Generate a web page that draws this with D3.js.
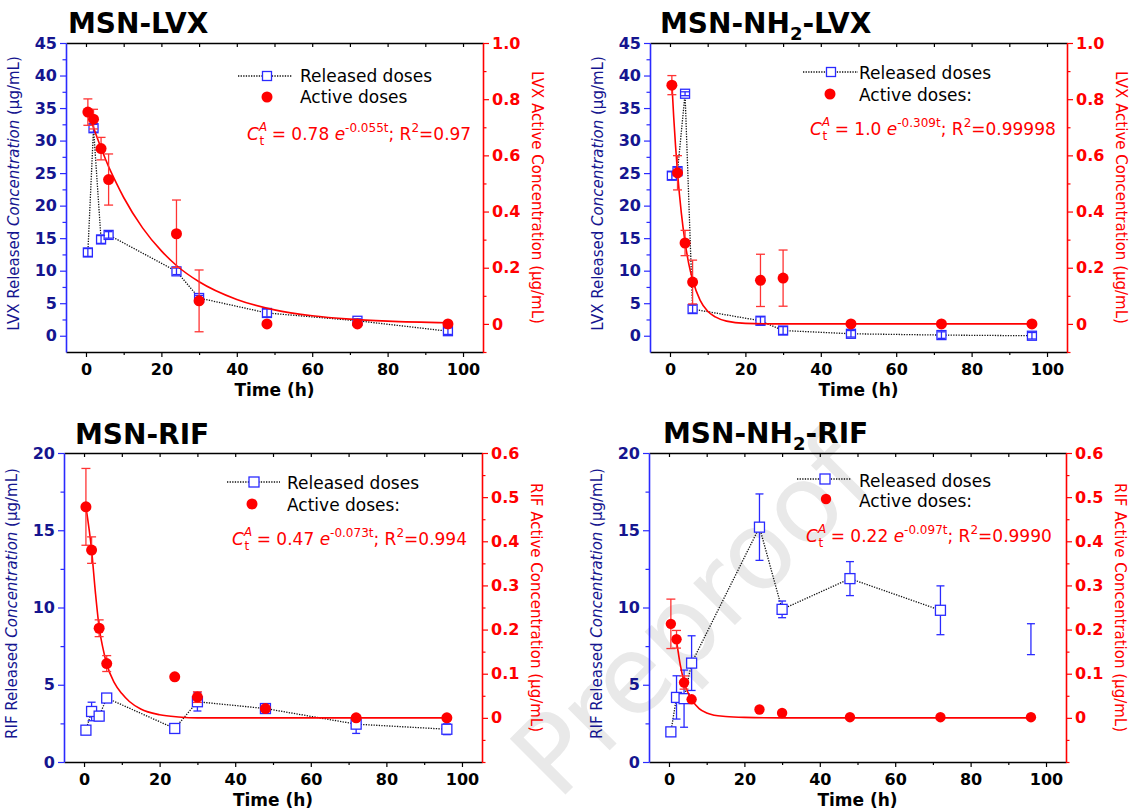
<!DOCTYPE html>
<html><head><meta charset="utf-8">
<script src="https://cdn.jsdelivr.net/npm/d3@7"></script>
<style>body{margin:0;background:#fff}svg text{font-family:"DejaVu Sans",sans-serif}</style>
</head><body>
<svg id="c" width="1133" height="812"></svg>
<script>
// ---------- DATA ----------
const times = [0.5, 2, 4, 6, 24, 30, 48, 72, 96];

// MSN-LVX
const lvxReleased    = [12.8, 31.9, 14.8, 15.5, 9.9, 5.8, 3.5, 2.3, 0.7];
const lvxReleasedErr = [0.6, 0.6, 0.6, 0.5, 0.5, 0.4, 0.6, 0.3, 0.5];
const lvxActive      = [0.754, 0.729, 0.624, 0.514, 0.321, 0.082, 0.0, 0.0, 0.0];
const lvxActiveErr   = [0.047, 0.035, 0.04, 0.091, 0.12, 0.11, 0, 0, 0];
const lvxFitT = [1.5, 4, 6, 8, 10, 15, 20, 24, 30, 40, 50, 60, 70, 80, 96];
const lvxFitV = [0.718, 0.626, 0.560, 0.503, 0.450, 0.342, 0.260, 0.208, 0.150, 0.087, 0.050, 0.029, 0.017, 0.010, 0.004];

// MSN-NH2-LVX
const nh2LvxReleased    = [24.6, 25.3, 37.2, 4.1, 2.3, 0.8, 0.3, 0.1, 0.0];
const nh2LvxReleasedErr = [0.6, 0.6, 0.3, 0.6, 0.6, 0.6, 0.5, 0.5, 0.5];
const nh2LvxActive      = [0.85, 0.538, 0.288, 0.149, 0.155, 0.163, 0.0, 0.0, 0.0];
const nh2LvxActiveErr   = [0.034, 0.061, 0.045, 0.078, 0.093, 0.1, 0, 0, 0];
const nh2LvxFitT = [0.5, 1, 2, 3, 4, 5, 6, 8, 10, 12, 15, 20, 30, 96];
const nh2LvxFitV = [0.857, 0.734, 0.539, 0.396, 0.291, 0.213, 0.157, 0.084, 0.045, 0.025, 0.010, 0.002, 0, 0];

// MSN-RIF
const rifReleased    = [2.06, 3.27, 2.97, 4.14, 2.17, 3.9, 3.46, 2.45, 2.12];
const rifReleasedErr = [0, 0.6, 0.3, 0, 0, 0.6, 0.1, 0.6, 0.35];
const rifActive      = [0.478, 0.38, 0.203, 0.123, 0.093, 0.047, 0.021, 0.0, 0.0];
const rifActiveErr   = [0.087, 0.03, 0.019, 0.018, 0, 0.012, 0, 0, 0];
const rifFitT = [0.5, 2, 3, 4, 5, 6, 8, 10, 12, 15, 20, 25, 30, 96];
const rifFitV = [0.478, 0.38, 0.285, 0.205, 0.158, 0.122, 0.08, 0.055, 0.037, 0.02, 0.007, 0.002, 0, 0];

// MSN-NH2-RIF
const nh2RifReleased    = [1.95, 4.18, 4.1, 6.4, 15.2, 9.88, 11.87, 9.82, 7.95];
const nh2RifReleasedErr = [0, 1.4, 1.85, 1.77, 2.15, 0.54, 1.1, 1.58, 1.0];
const nh2RifMarkerShown = [true, true, true, true, true, true, true, true, false];
const nh2RifActive      = [0.213, 0.178, 0.08, 0.042, 0.019, 0.011, 0.0015, 0.0015, 0.0015];
const nh2RifActiveErr   = [0.056, 0.02, 0.015, 0, 0, 0, 0, 0, 0];
const nh2RifFitT = [2, 3, 4, 5, 6, 8, 10, 12, 15, 20, 30, 96];
const nh2RifFitV = [0.175, 0.12, 0.082, 0.058, 0.042, 0.021, 0.011, 0.006, 0.003, 0.001, 0, 0];

// Text
const titles = [["MSN-LVX"], ["MSN-NH", "2", "-LVX"], ["MSN-RIF"], ["MSN-NH", "2", "-RIF"]];
const drugs = ["LVX", "LVX", "RIF", "RIF"];
const legendReleased = "Released doses";
const legendActive = ["Active doses", "Active doses:", "Active doses:", "Active doses:"];
const eqA  = ["0.78", "1.0", "0.47", "0.22"];
const eqK  = ["-0.055t", "-0.309t", "-0.073t", "-0.097t"];
const eqR2 = ["0.97", "0.99998", "0.994", "0.9990"];
const xTicks = [0, 20, 40, 60, 80, 100];
const xLabel = "Time (h)";
const leftTicksLVX = [0, 5, 10, 15, 20, 25, 30, 35, 40, 45];
const leftTicksRIF = [0, 5, 10, 15, 20];
const rightTicksLVX = [0, 0.2, 0.4, 0.6, 0.8, 1.0];
const rightTicksRIF = [0, 0.1, 0.2, 0.3, 0.4, 0.5, 0.6];
const watermark = "Preproof";

// ---------- LAYOUT ----------
const NAVY = "#15158f", BLUE = "#2a2aff", RED = "#ff0000";
const panels = [
  {released: lvxReleased, relErr: lvxReleasedErr, shown: null, active: lvxActive, actErr: lvxActiveErr, fitT: lvxFitT, fitV: lvxFitV,
   px:66, py:43, pw:417, ph:309, yL:[-2.5,45], yLt:leftTicksLVX, yLstep:2.5, yR:[-0.1,1.0], yRt:rightTicksLVX, yRstep:0.1,
   sq:9, r:5.5, barsOnTop:true, title:[68,33], leg:{x0:238,x1:292,xs:267,ys:76,tx:300,tb1:82,xd:267,yd:97,tb2:103}, eq:[247,140]},
  {released: nh2LvxReleased, relErr: nh2LvxReleasedErr, shown: null, active: nh2LvxActive, actErr: nh2LvxActiveErr, fitT: nh2LvxFitT, fitV: nh2LvxFitV,
   px:650, py:43, pw:417, ph:309, yL:[-2.5,45], yLt:leftTicksLVX, yLstep:2.5, yR:[-0.1,1.0], yRt:rightTicksLVX, yRstep:0.1,
   sq:9, r:5.5, barsOnTop:true, title:[660,33], leg:{x0:803,x1:858,xs:831,ys:72,tx:859,tb1:79,xd:830,yd:94,tb2:101}, eq:[810,135]},
  {released: rifReleased, relErr: rifReleasedErr, shown: null, active: rifActive, actErr: rifActiveErr, fitT: rifFitT, fitV: rifFitV,
   px:64, py:453, pw:418, ph:309, yL:[0,20], yLt:leftTicksRIF, yLstep:2.5, yR:[-0.1,0.6], yRt:rightTicksRIF, yRstep:0.05,
   sq:10, r:5.5, barsOnTop:false, title:[75,444], leg:{x0:227,x1:280,xs:254,ys:482,tx:287,tb1:489,xd:252,yd:504,tb2:511}, eq:[232,545]},
  {released: nh2RifReleased, relErr: nh2RifReleasedErr, shown: nh2RifMarkerShown, active: nh2RifActive, actErr: nh2RifActiveErr, fitT: nh2RifFitT, fitV: nh2RifFitV,
   px:649, py:453, pw:417, ph:309, yL:[0,20], yLt:leftTicksRIF, yLstep:2.5, yR:[-0.1,0.6], yRt:rightTicksRIF, yRstep:0.05,
   sq:10, r:5.2, barsOnTop:false, title:[663,443], leg:{x0:797,x1:851,xs:825,ys:479,tx:859,tb1:487,xd:826,yd:499,tb2:507}, eq:[806,542]}
];

const svg = d3.select("#c");
svg.append("rect").attr("width",1133).attr("height",812).attr("fill","#fff");

// watermark
svg.append("text").text(watermark)
  .attr("transform","translate(718,642) rotate(-45)")
  .attr("text-anchor","middle").attr("font-size",108)
  .attr("fill","#e9e9e9");

function fmtR(d){ return d === 0 ? "0" : d3.format(".1f")(d); }

panels.forEach((p, i) => {
  const g = svg.append("g");
  const x = d3.scaleLinear().domain([-5.3, 105.3]).range([p.px, p.px + p.pw]);
  const yl = d3.scaleLinear().domain(p.yL).range([p.py + p.ph, p.py]);
  const yr = d3.scaleLinear().domain(p.yR).range([p.py + p.ph, p.py]);
  const bottom = p.py + p.ph, right = p.px + p.pw;

  // top axis (ticks inward)
  g.append("g").attr("transform",`translate(0,${p.py})`)
    .call(d3.axisBottom(x).tickValues(d3.range(0,101,10)).tickSize(4).tickSizeOuter(0).tickFormat(""))
    .call(a => { a.select(".domain").attr("stroke","#000").attr("stroke-width",1.5); a.selectAll(".tick line").attr("stroke","#000").attr("stroke-width",1.2); });
  // bottom axis
  g.append("g").attr("transform",`translate(0,${bottom})`)
    .call(d3.axisBottom(x).tickValues(d3.range(10,101,20)).tickSize(3).tickSizeOuter(0).tickFormat(""))
    .call(a => { a.select(".domain").remove(); a.selectAll(".tick line").attr("stroke","#000").attr("stroke-width",1.2); });
  g.append("g").attr("transform",`translate(0,${bottom})`)
    .call(d3.axisBottom(x).tickValues(xTicks).tickSize(5).tickSizeOuter(0).tickPadding(7).tickFormat(d3.format("d")))
    .call(a => { a.select(".domain").attr("stroke","#000").attr("stroke-width",1.5);
      a.selectAll(".tick line").attr("stroke","#000").attr("stroke-width",1.2);
      a.selectAll("text").attr("fill","#000").attr("font-size",16).attr("font-weight","bold").attr("font-family","DejaVu Sans"); });
  g.append("text").text(xLabel).attr("x", p.px + p.pw/2).attr("y", bottom + 44)
    .attr("text-anchor","middle").attr("font-size",17).attr("font-weight","bold").attr("fill","#000");

  // left axis
  const lMinor = d3.range(p.yLstep, p.yL[1], p.yLstep*2);
  g.append("g").attr("transform",`translate(${p.px},0)`)
    .call(d3.axisLeft(yl).tickValues(lMinor).tickSize(3.5).tickSizeOuter(0).tickFormat(""))
    .call(a => { a.select(".domain").remove(); a.selectAll(".tick line").attr("stroke",BLUE).attr("stroke-width",1.2); });
  g.append("g").attr("transform",`translate(${p.px},0)`)
    .call(d3.axisLeft(yl).tickValues(p.yLt).tickSize(6).tickSizeOuter(0).tickPadding(3).tickFormat(d3.format("d")))
    .call(a => { a.select(".domain").attr("stroke",BLUE).attr("stroke-width",1.6);
      a.selectAll(".tick line").attr("stroke",BLUE).attr("stroke-width",1.2);
      a.selectAll("text").attr("fill",NAVY).attr("font-size",16).attr("font-weight","bold").attr("font-family","DejaVu Sans"); });
  const ll = g.append("text").attr("transform",`translate(${p.px-47},${p.py+p.ph/2 - 4}) rotate(-90)`)
    .attr("text-anchor","middle").attr("font-size",15).attr("fill",NAVY);
  ll.append("tspan").text(drugs[i] + " Released ");
  ll.append("tspan").text("Concentration").attr("font-style","italic");
  ll.append("tspan").text(" (µg/mL)");

  // right axis
  const rMinor = [];
  for (let v = p.yR[0]; v <= p.yR[1] + 1e-9; v += p.yRstep) {
    const vv = Math.round(v*1000)/1000;
    if (!p.yRt.some(t => Math.abs(t - vv) < 1e-6)) rMinor.push(vv);
  }
  g.append("g").attr("transform",`translate(${right},0)`)
    .call(d3.axisRight(yr).tickValues(rMinor).tickSize(3.5).tickSizeOuter(0).tickFormat(""))
    .call(a => { a.select(".domain").remove(); a.selectAll(".tick line").attr("stroke",RED).attr("stroke-width",1.2); });
  g.append("g").attr("transform",`translate(${right},0)`)
    .call(d3.axisRight(yr).tickValues(p.yRt).tickSize(6).tickSizeOuter(0).tickPadding(3).tickFormat(fmtR))
    .call(a => { a.select(".domain").attr("stroke",RED).attr("stroke-width",1.6);
      a.selectAll(".tick line").attr("stroke",RED).attr("stroke-width",1.2);
      a.selectAll("text").attr("fill",RED).attr("font-size",16).attr("font-weight","bold").attr("font-family","DejaVu Sans"); });
  g.append("text").attr("transform",`translate(${right+49},${p.py+p.ph/2}) rotate(90)`)
    .attr("text-anchor","middle").attr("font-size",15).attr("fill",RED)
    .text(drugs[i] + " Active Concentration (µg/mL)");

  // title
  const tt = g.append("text").attr("x",p.title[0]).attr("y",p.title[1]).attr("font-size",28).attr("font-weight","bold").attr("fill","#000");
  titles[i].forEach((s, k) => {
    const ts = tt.append("tspan").text(s);
    if (k % 2 === 1) ts.attr("font-size",18).attr("dy",7);
    else if (k > 0) ts.attr("dy",-7);
  });

  // data
  const pts = times.map((t, k) => ({t, v: p.released[k], e: p.relErr[k], show: p.shown ? p.shown[k] : true}));
  const act = times.map((t, k) => ({t, v: p.active[k], e: p.actErr[k]}));
  const fit = p.fitT.map((t, k) => ({t, v: p.fitV[k]}));

  const blueBars = () => {
    const eb = g.append("g").attr("stroke",BLUE).attr("stroke-width",1.3);
    pts.filter(d => d.e > 0).forEach(d => {
      const cx = x(d.t);
      eb.append("line").attr("x1",cx).attr("x2",cx).attr("y1",yl(d.v - d.e)).attr("y2",yl(d.v + d.e));
      [d.v - d.e, d.v + d.e].forEach(v => eb.append("line").attr("x1",cx-4).attr("x2",cx+4).attr("y1",yl(v)).attr("y2",yl(v)));
    });
  };

  // released dotted line
  const line = d3.line().x(d => x(d.t)).y(d => yl(d.v));
  g.append("path").datum(pts.filter(d => d.show)).attr("d", line)
    .attr("fill","none").attr("stroke","#111").attr("stroke-width",1.3).attr("stroke-dasharray","1.3,1.3");
  if (!p.barsOnTop) blueBars();
  g.append("g").selectAll("rect").data(pts.filter(d => d.show)).join("rect")
    .attr("x", d => x(d.t) - p.sq/2).attr("y", d => yl(d.v) - p.sq/2)
    .attr("width", p.sq).attr("height", p.sq)
    .attr("fill","#fff").attr("stroke",BLUE).attr("stroke-width",1.3);
  if (p.barsOnTop) blueBars();

  // fit curve
  g.append("path").datum(fit)
    .attr("d", d3.line().x(d => x(d.t)).y(d => yr(d.v)).curve(d3.curveMonotoneX))
    .attr("fill","none").attr("stroke",RED).attr("stroke-width",1.6);

  // active error bars
  const rb = g.append("g").attr("stroke","#ff3333").attr("stroke-width",1.3);
  act.filter(d => d.e > 0).forEach(d => {
    const cx = x(d.t);
    rb.append("line").attr("x1",cx).attr("x2",cx).attr("y1",yr(d.v - d.e)).attr("y2",yr(d.v + d.e));
    [d.v - d.e, d.v + d.e].forEach(v => rb.append("line").attr("x1",cx-4.5).attr("x2",cx+4.5).attr("y1",yr(v)).attr("y2",yr(v)));
  });
  g.append("g").selectAll("circle").data(act).join("circle")
    .attr("cx", d => x(d.t)).attr("cy", d => yr(d.v)).attr("r", p.r).attr("fill",RED);

  // legend
  const lg = p.leg;
  g.append("line").attr("x1",lg.x0).attr("x2",lg.x1).attr("y1",lg.ys).attr("y2",lg.ys)
    .attr("stroke","#111").attr("stroke-width",1.3).attr("stroke-dasharray","1.3,1.3");
  g.append("rect").attr("x",lg.xs - p.sq/2).attr("y",lg.ys - p.sq/2).attr("width",p.sq).attr("height",p.sq)
    .attr("fill","#fff").attr("stroke",BLUE).attr("stroke-width",1.3);
  g.append("text").attr("x",lg.tx).attr("y",lg.tb1).attr("font-size",17).attr("fill","#000").text(legendReleased);
  g.append("circle").attr("cx",lg.xd).attr("cy",lg.yd).attr("r",p.r).attr("fill",RED);
  g.append("text").attr("x",lg.tx).attr("y",lg.tb2).attr("font-size",17).attr("fill","#000").text(legendActive[i]);

  // equation
  const eq = g.append("text").attr("x",p.eq[0]).attr("y",p.eq[1]).attr("font-size",17).attr("fill",RED);
  eq.append("tspan").text("C").attr("font-style","italic");
  eq.append("tspan").text("A").attr("font-size",12).attr("font-style","italic").attr("dy",-9);
  eq.append("tspan").text("t").attr("font-size",12).attr("dx",-7.5).attr("dy",14);
  eq.append("tspan").text(" = " + eqA[i] + " ").attr("dx",2).attr("dy",-5);
  eq.append("tspan").text("e").attr("font-style","italic");
  eq.append("tspan").text(eqK[i]).attr("font-size",12).attr("dy",-8);
  eq.append("tspan").text("; R").attr("dy",8);
  eq.append("tspan").text("2").attr("font-size",12).attr("dy",-8);
  eq.append("tspan").text("=" + eqR2[i]).attr("dy",8);
});
</script>
</body></html>
